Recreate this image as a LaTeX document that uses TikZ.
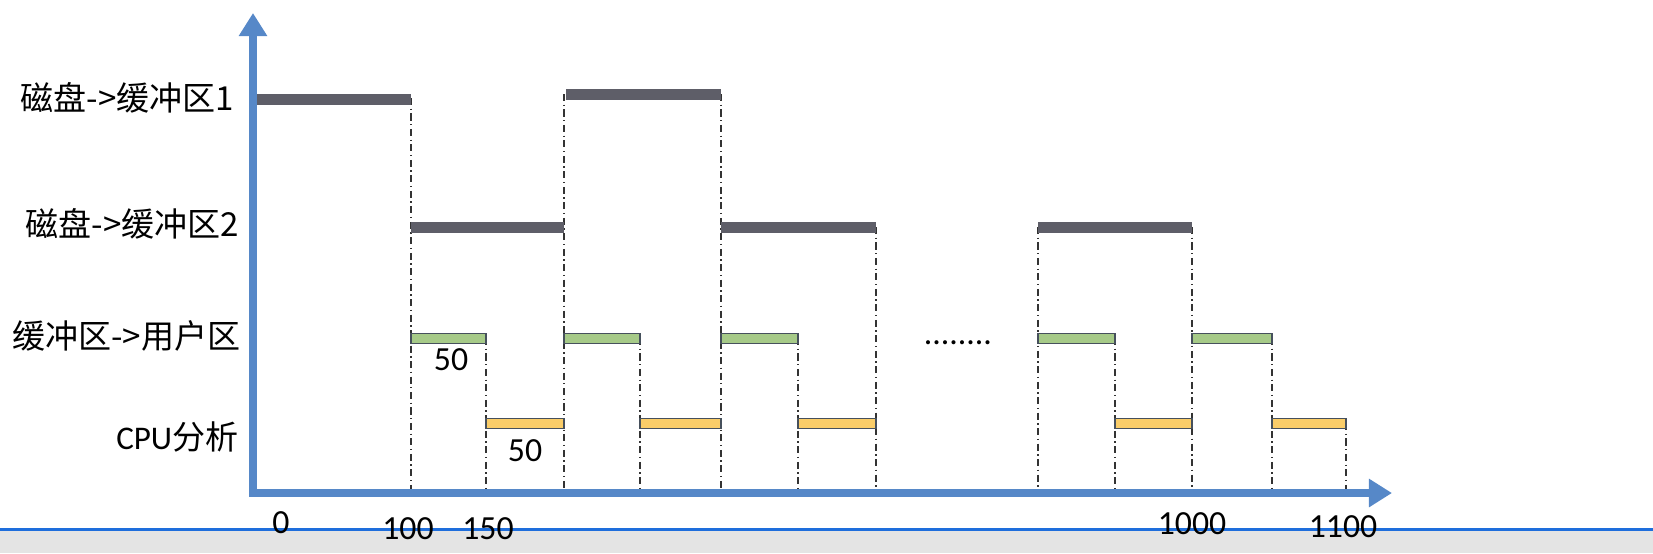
\documentclass[tikz,border=0pt]{standalone}
\usepackage{fontspec}
\setmainfont{Carlito}
\newfontfamily\cjk{Noto Sans CJK SC}
\usepackage{tikz}
\usetikzlibrary{arrows.meta, positioning}
\definecolor{axisblue}{RGB}{86,136,200}
\definecolor{diskgray}{RGB}{94,94,104}
\definecolor{copygreen}{RGB}{166,202,136}
\definecolor{cpuyellow}{RGB}{250,205,105}
\definecolor{baredge}{RGB}{70,80,92}
\definecolor{stripgray}{RGB}{228,228,228}
\definecolor{stripblue}{RGB}{30,110,220}
\tikzset{
  axisline/.style={draw=axisblue, line width=2.3pt, line join=miter,
    {Triangle[width=0.27cm,length=0.23cm]}-{Triangle[width=0.27cm,length=0.23cm]}},
  guide/.style={draw=black!80, line width=0.4pt,
    dash pattern=on 2pt off 1pt on 0.4pt off 1pt},
  diskbar/.style={fill=diskgray, draw=none},
  copybar/.style={fill=copygreen, draw=baredge, line width=0.4pt},
  cpubar/.style={fill=cpuyellow, draw=baredge, line width=0.4pt},
  rowlabel/.style={anchor=east, inner sep=0pt, font=\cjk\fontsize{9.4}{11}\selectfont},
  numlabel/.style={inner sep=0pt, font=\fontsize{9.6}{11}\selectfont},
}
\begin{document}
\begin{tikzpicture}[x=0.01cm, y=-0.01cm]
  \useasboundingbox (0,0) rectangle (1653,553);
  % strip at the bottom of the screen
  \fill[stripgray] (0,531) rectangle (1653,553);
  \draw[stripblue, line width=0.6pt] (0,529.5) -- (1653,529.5);
  % guide lines down to the time axis
  \foreach \x/\y in {411/98, 486/338, 564/94, 640/338, 721/94, 798/338,
                     876/227, 1038/227, 1115/338, 1192/227, 1272/338, 1346/423}
    \draw[guide] (\x,\y) -- (\x,493);
  % disk -> buffer 1
  \foreach \a/\b/\y in {253/411/99, 566/721/94}
    \fill[diskbar] (\a,\y-5.5) rectangle (\b,\y+5.5);
  % disk -> buffer 2
  \foreach \a/\b in {411/564, 721/876, 1038/1192}
    \fill[diskbar] (\a,222) rectangle (\b,233);
  % buffer -> user
  \foreach \a/\b in {411/486, 564/640, 721/798, 1038/1115, 1192/1272}
    \draw[copybar] (\a,333.5) rectangle (\b,343.5);
  % cpu
  \foreach \a/\b in {486/564, 640/721, 798/876, 1115/1192, 1272/1346}
    \draw[cpubar] (\a,418.5) rectangle (\b,428.5);
  % axes
  \draw[axisline] (253,13) -- (253,493) -- (1392,493);
  % row labels
  \node[rowlabel] (disk1) at (235,98) {磁盘->缓冲区1};
  \node[rowlabel] (disk2) at (240,224) {磁盘->缓冲区2};
  \node[rowlabel] (copy) at (241,336) {缓冲区->用户区};
  \node[rowlabel] (cpu) at (239,437) {{\rmfamily CPU}分析};
  % durations
  \node[numlabel] (copydur) at (451,360) {50};
  \node[numlabel] (cpudur) at (525,451) {50};
  \node[numlabel, anchor=base] (more) at (958,344) {........};
  % time ticks
  \node[numlabel] (t0) at (281,523) {0};
  \node[numlabel] (t100) at (408,529) {100};
  \node[numlabel] (t150) at (488,529) {150};
  \node[numlabel] (t1000) at (1192,524) {1000};
  \node[numlabel] (t1100) at (1343,527) {1100};
\end{tikzpicture}
\end{document}
